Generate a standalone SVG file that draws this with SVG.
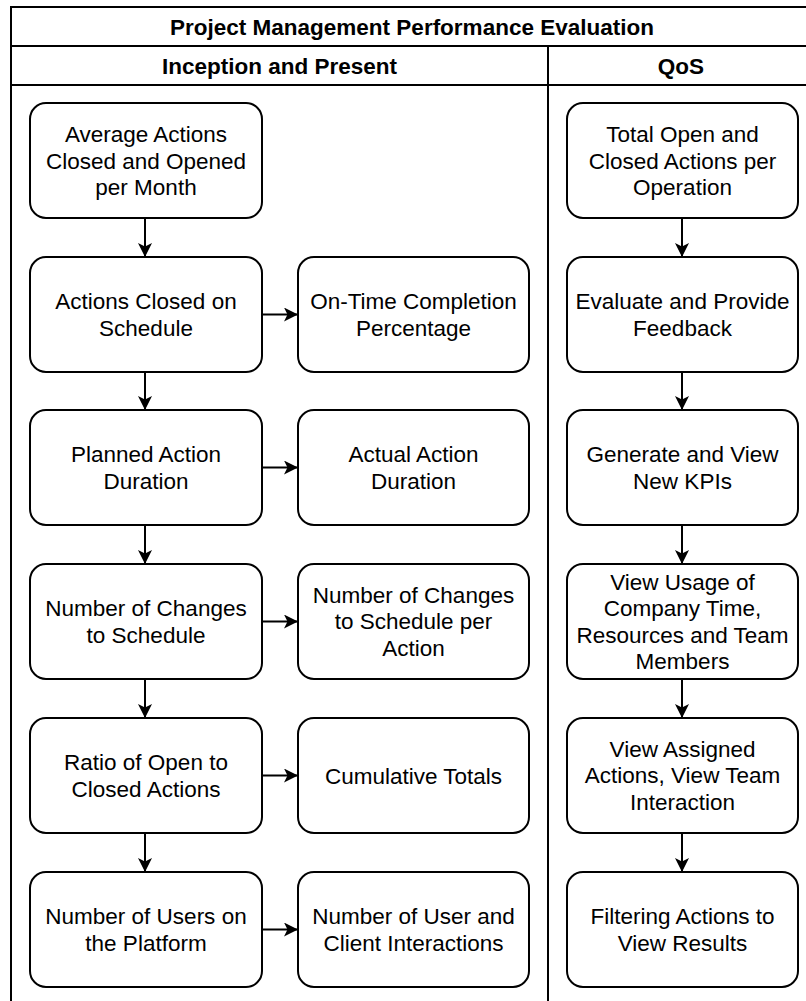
<svg xmlns="http://www.w3.org/2000/svg" width="806" height="1001" viewBox="0 0 806 1001">
  <style>
    .frame { fill: none; stroke: #000; stroke-width: 2; }
    .box { fill: #fff; stroke: #000; stroke-width: 2; }
    .lbl { font-family: "Liberation Sans", Arial, sans-serif; font-size: 22.5px; fill: #000; text-anchor: middle; }
    .hdr { font-family: "Liberation Sans", Arial, sans-serif; font-size: 22.5px; font-weight: bold; fill: #000; text-anchor: middle; }
    .edge { fill: none; stroke: #000; stroke-width: 2; }
  </style>
  <defs>
    <marker id="arrow" markerUnits="userSpaceOnUse" markerWidth="14" markerHeight="14" refX="14" refY="7" orient="auto">
      <path d="M0,0 L14,7 L0,14 L3.5,7 Z" fill="#000"/>
    </marker>
  </defs>

  <rect x="0" y="0" width="806" height="1001" fill="#fff"/>

  <!-- pool frame with title and lane headers -->
  <g id="pool">
    <path class="frame" d="M11,1010 V7 H820 M11,46 H820 M11,85 H820 M548,46 V1010"/>
    <text class="hdr" x="412" y="34.5">Project Management Performance Evaluation</text>
    <text class="hdr" x="279.5" y="73.5">Inception and Present</text>
    <text class="hdr" x="681" y="73.5">QoS</text>
  </g>

  <!-- left lane, first column -->
  <g id="avg-actions">
    <rect class="box" x="30" y="103" width="232" height="115" rx="16"/>
    <text class="lbl" x="146" y="142">Average Actions</text>
    <text class="lbl" x="146" y="168.5">Closed and Opened</text>
    <text class="lbl" x="146" y="195">per Month</text>
  </g>
  <g id="closed-on-schedule">
    <rect class="box" x="30" y="257" width="232" height="115" rx="16"/>
    <text class="lbl" x="146" y="309">Actions Closed on</text>
    <text class="lbl" x="146" y="335.5">Schedule</text>
  </g>
  <g id="planned-duration">
    <rect class="box" x="30" y="410" width="232" height="115" rx="16"/>
    <text class="lbl" x="146" y="462">Planned Action</text>
    <text class="lbl" x="146" y="488.5">Duration</text>
  </g>
  <g id="schedule-changes">
    <rect class="box" x="30" y="564" width="232" height="115" rx="16"/>
    <text class="lbl" x="146" y="616">Number of Changes</text>
    <text class="lbl" x="146" y="642.5">to Schedule</text>
  </g>
  <g id="open-closed-ratio">
    <rect class="box" x="30" y="718" width="232" height="115" rx="16"/>
    <text class="lbl" x="146" y="770">Ratio of Open to</text>
    <text class="lbl" x="146" y="796.5">Closed Actions</text>
  </g>
  <g id="platform-users">
    <rect class="box" x="30" y="872" width="232" height="115" rx="16"/>
    <text class="lbl" x="146" y="924">Number of Users on</text>
    <text class="lbl" x="146" y="950.5">the Platform</text>
  </g>

  <!-- left lane, second column -->
  <g id="on-time-pct">
    <rect class="box" x="298" y="257" width="231" height="115" rx="16"/>
    <text class="lbl" x="413.5" y="309">On-Time Completion</text>
    <text class="lbl" x="413.5" y="335.5">Percentage</text>
  </g>
  <g id="actual-duration">
    <rect class="box" x="298" y="410" width="231" height="115" rx="16"/>
    <text class="lbl" x="413.5" y="462">Actual Action</text>
    <text class="lbl" x="413.5" y="488.5">Duration</text>
  </g>
  <g id="changes-per-action">
    <rect class="box" x="298" y="564" width="231" height="115" rx="16"/>
    <text class="lbl" x="413.5" y="602.5">Number of Changes</text>
    <text class="lbl" x="413.5" y="629">to Schedule per</text>
    <text class="lbl" x="413.5" y="655.5">Action</text>
  </g>
  <g id="cumulative-totals">
    <rect class="box" x="298" y="718" width="231" height="115" rx="16"/>
    <text class="lbl" x="413.5" y="783.5">Cumulative Totals</text>
  </g>
  <g id="user-client-interactions">
    <rect class="box" x="298" y="872" width="231" height="115" rx="16"/>
    <text class="lbl" x="413.5" y="924">Number of User and</text>
    <text class="lbl" x="413.5" y="950.5">Client Interactions</text>
  </g>

  <!-- QoS lane -->
  <g id="total-per-operation">
    <rect class="box" x="567" y="103" width="231" height="115" rx="16"/>
    <text class="lbl" x="682.5" y="142">Total Open and</text>
    <text class="lbl" x="682.5" y="168.5">Closed Actions per</text>
    <text class="lbl" x="682.5" y="195">Operation</text>
  </g>
  <g id="evaluate-feedback">
    <rect class="box" x="567" y="257" width="231" height="115" rx="16"/>
    <text class="lbl" x="682.5" y="309">Evaluate and Provide</text>
    <text class="lbl" x="682.5" y="335.5">Feedback</text>
  </g>
  <g id="new-kpis">
    <rect class="box" x="567" y="410" width="231" height="115" rx="16"/>
    <text class="lbl" x="682.5" y="462">Generate and View</text>
    <text class="lbl" x="682.5" y="488.5">New KPIs</text>
  </g>
  <g id="usage-view">
    <rect class="box" x="567" y="564" width="231" height="115" rx="16"/>
    <text class="lbl" x="682.5" y="589.5">View Usage of</text>
    <text class="lbl" x="682.5" y="616">Company Time,</text>
    <text class="lbl" x="682.5" y="642.5">Resources and Team</text>
    <text class="lbl" x="682.5" y="669">Members</text>
  </g>
  <g id="assigned-actions">
    <rect class="box" x="567" y="718" width="231" height="115" rx="16"/>
    <text class="lbl" x="682.5" y="756.5">View Assigned</text>
    <text class="lbl" x="682.5" y="783">Actions, View Team</text>
    <text class="lbl" x="682.5" y="809.5">Interaction</text>
  </g>
  <g id="filtering-actions">
    <rect class="box" x="567" y="872" width="231" height="115" rx="16"/>
    <text class="lbl" x="682.5" y="924">Filtering Actions to</text>
    <text class="lbl" x="682.5" y="950.5">View Results</text>
  </g>

  <!-- connectors -->
  <g id="connectors">
    <line class="edge" x1="145" y1="218" x2="145" y2="257" marker-end="url(#arrow)"/>
    <line class="edge" x1="145" y1="372" x2="145" y2="410" marker-end="url(#arrow)"/>
    <line class="edge" x1="145" y1="525" x2="145" y2="564" marker-end="url(#arrow)"/>
    <line class="edge" x1="145" y1="679" x2="145" y2="718" marker-end="url(#arrow)"/>
    <line class="edge" x1="145" y1="833" x2="145" y2="872" marker-end="url(#arrow)"/>

    <line class="edge" x1="262" y1="314.5" x2="298" y2="314.5" marker-end="url(#arrow)"/>
    <line class="edge" x1="262" y1="467.5" x2="298" y2="467.5" marker-end="url(#arrow)"/>
    <line class="edge" x1="262" y1="621.5" x2="298" y2="621.5" marker-end="url(#arrow)"/>
    <line class="edge" x1="262" y1="775.5" x2="298" y2="775.5" marker-end="url(#arrow)"/>
    <line class="edge" x1="262" y1="929.5" x2="298" y2="929.5" marker-end="url(#arrow)"/>

    <line class="edge" x1="682" y1="218" x2="682" y2="257" marker-end="url(#arrow)"/>
    <line class="edge" x1="682" y1="372" x2="682" y2="410" marker-end="url(#arrow)"/>
    <line class="edge" x1="682" y1="525" x2="682" y2="564" marker-end="url(#arrow)"/>
    <line class="edge" x1="682" y1="679" x2="682" y2="718" marker-end="url(#arrow)"/>
    <line class="edge" x1="682" y1="833" x2="682" y2="872" marker-end="url(#arrow)"/>
  </g>
</svg>
